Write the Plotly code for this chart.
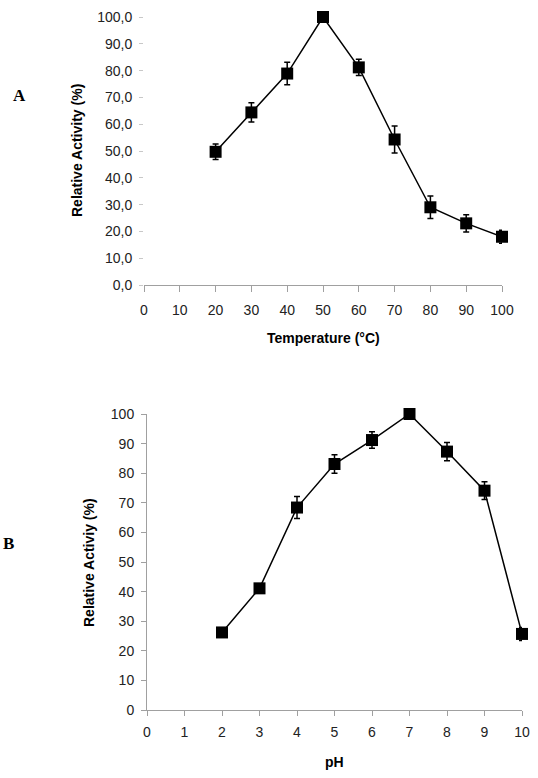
import plotly.graph_objects as go

W, H = 538, 778

temperature = [20, 30, 40, 50, 60, 70, 80, 90, 100]
temp_activity = [49.7, 64.4, 78.9, 100.0, 81.2, 54.3, 29.0, 23.0, 18.0]
temp_error = [2.9, 3.6, 4.2, 1.5, 3.0, 5.0, 4.2, 3.2, 2.4]

ph = [2, 3, 4, 5, 6, 7, 8, 9, 10]
ph_activity = [26.2, 41.1, 68.4, 83.1, 91.2, 100.0, 87.3, 74.1, 25.7]
ph_error = [1.0, 1.5, 3.7, 3.1, 2.8, 1.5, 3.1, 3.0, 2.2]

temp_ticks = list(range(0, 101, 10))
temp_y_ticks = list(range(0, 101, 10))
temp_y_labels = [f"{v},0" for v in temp_y_ticks]
ph_ticks = list(range(0, 11, 1))
ph_y_ticks = list(range(0, 101, 10))

def px_x(p):
    return p / W

def px_y(p):
    return 1 - p / H

fig = go.Figure()

marker = dict(symbol="square", size=12, color="black")
line = dict(color="black", width=1.5)

fig.add_trace(go.Scatter(
    x=temperature, y=temp_activity, mode="lines+markers",
    marker=marker, line=line,
    error_y=dict(type="data", array=temp_error, color="black", thickness=1.5, width=3),
    xaxis="x", yaxis="y", cliponaxis=False, showlegend=False,
))
fig.add_trace(go.Scatter(
    x=ph, y=ph_activity, mode="lines+markers",
    marker=marker, line=line,
    error_y=dict(type="data", array=ph_error, color="black", thickness=1.5, width=3),
    xaxis="x2", yaxis="y2", cliponaxis=False, showlegend=False,
))

tickfont = dict(family="Liberation Sans, Arial, sans-serif", size=14, color="#222")
axis_grey = "#a0a0a0"

fig.update_layout(
    template="none",
    width=W, height=H,
    margin=dict(l=0, r=0, t=0, b=0),
    paper_bgcolor="white", plot_bgcolor="white",
    xaxis=dict(
        domain=[px_x(144), px_x(502)], range=[0, 100],
        tickvals=temp_ticks, ticktext=[str(v) for v in temp_ticks],
        showline=True, linecolor=axis_grey, linewidth=1,
        ticks="outside", ticklen=6, tickcolor=axis_grey,
        ticklabelstandoff=6,
        showgrid=False, zeroline=False, tickfont=tickfont,
        anchor="y", automargin=False,
    ),
    yaxis=dict(
        domain=[px_y(285), px_y(17)], range=[0, 100],
        tickvals=temp_y_ticks, ticktext=temp_y_labels,
        showline=False, ticks="outside", ticklen=4, tickcolor="#c8c8c8",
        ticklabelstandoff=4,
        showgrid=False, zeroline=False, tickfont=tickfont,
        anchor="x", automargin=False,
    ),
    xaxis2=dict(
        domain=[px_x(147), px_x(522)], range=[0, 10],
        tickvals=ph_ticks,
        showline=True, linecolor=axis_grey, linewidth=1,
        ticks="outside", ticklen=5, tickcolor=axis_grey,
        ticklabelstandoff=4,
        showgrid=False, zeroline=False, tickfont=tickfont,
        anchor="y2", automargin=False,
    ),
    yaxis2=dict(
        domain=[px_y(710), px_y(414)], range=[0, 100],
        tickvals=ph_y_ticks,
        showline=True, linecolor=axis_grey, linewidth=1,
        ticks="outside", ticklen=5, tickcolor=axis_grey,
        ticklabelstandoff=4,
        showgrid=False, zeroline=False, tickfont=tickfont,
        anchor="x2", automargin=False,
    ),
)

title_font = dict(family="Liberation Sans, Arial, sans-serif", size=14, color="black")
letter_font = dict(family="Liberation Serif, Times New Roman, serif", size=17, color="black")

annotations = [
    dict(text="<b>Temperature (°C)</b>", x=px_x(323), y=px_y(338), font=title_font),
    dict(text="<b>Relative Activity (%)</b>", x=px_x(77), y=px_y(151), textangle=-90, font=title_font),
    dict(text="<b>pH</b>", x=px_x(334), y=px_y(762), font=title_font),
    dict(text="<b>Relative Activiy (%)</b>", x=px_x(89), y=px_y(563), textangle=-90, font=title_font),
    dict(text="<b>A</b>", x=px_x(19), y=px_y(95), font=letter_font),
    dict(text="<b>B</b>", x=px_x(8), y=px_y(543), font=letter_font),
]
for a in annotations:
    a.update(xref="paper", yref="paper", showarrow=False, xanchor="center", yanchor="middle")
fig.update_layout(annotations=annotations)

fig.write_html("out.html")
